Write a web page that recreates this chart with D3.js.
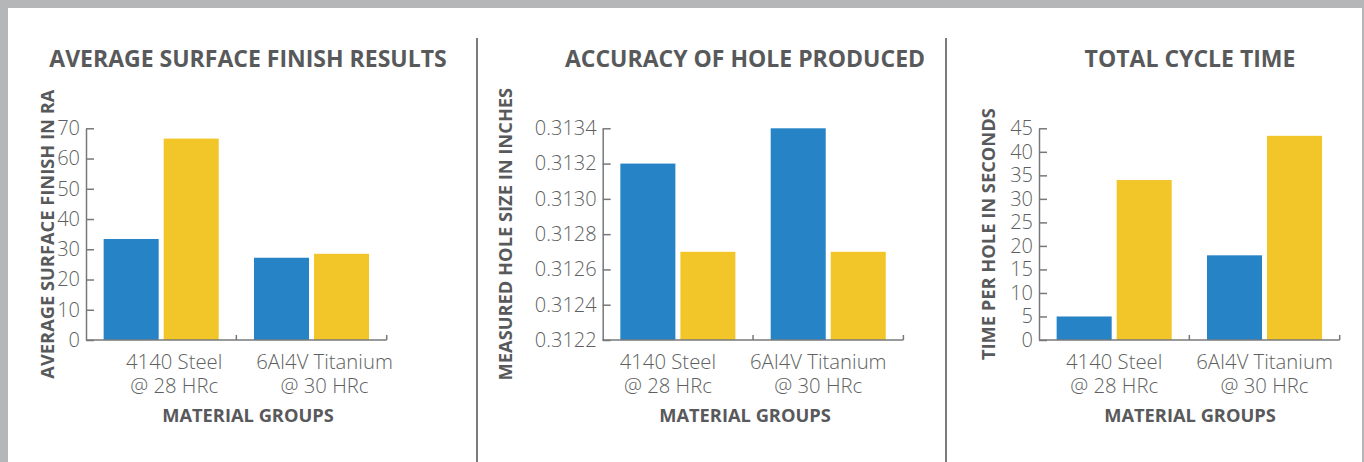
<!DOCTYPE html>
<html lang="en">
<head>
    <meta charset="UTF-8">
    <title>Drilling results</title>
    <style>
        body { margin: 0; background: #b5b6b8; }
        svg { display: block; }
        text { font-family: "Open Sans", sans-serif; fill: #58595b; }
        .title { font-weight: 700; font-size: 23px; }
        .axis-title { font-weight: 700; font-size: 18.3px; }
        .tick text { font-weight: 300; font-size: 20px; fill: #5e5f61; }
        .cat { font-weight: 300; font-size: 20.3px; fill: #5e5f61; }
    </style>
</head>
<body>
    <svg id="chart" width="1364" height="462"></svg>
    <script src="https://d3js.org/d3.v7.min.js"></script>
    <script>
        // categories (two lines each)
        var categories = ["4140 Steel", "6AI4V Titanium"];
        var categorySub = ["@ 28 HRc", "@ 30 HRc"];
        var seriesKeys = ["blue", "yellow"];

        // average surface finish (Ra)
        var finishBlue = [33.4, 27.2];
        var finishYellow = [66.6, 28.5];
        var finishTicks = [0, 10, 20, 30, 40, 50, 60, 70];

        // measured hole size (inches)
        var holeBlue = [0.3132, 0.3134];
        var holeYellow = [0.3127, 0.3127];
        var holeTicks = [0.3122, 0.3124, 0.3126, 0.3128, 0.3130, 0.3132, 0.3134];

        // cycle time (seconds per hole)
        var cycleBlue = [5, 18];
        var cycleYellow = [34, 43.4];
        var cycleTicks = [0, 5, 10, 15, 20, 25, 30, 35, 40, 45];

        var colors = { blue: "#2683c6", yellow: "#f2c628" };

        var charts = [
            { title: "AVERAGE SURFACE FINISH RESULTS", yTitle: "AVERAGE SURFACE FINISH IN RA",
              blue: finishBlue, yellow: finishYellow, ticks: finishTicks, fmt: d3.format("d"),
              x0: 86, titleX: 248, yTitleX: 54, catDx: 13 },
            { title: "ACCURACY OF HOLE PRODUCED", yTitle: "MEASURED HOLE SIZE IN INCHES",
              blue: holeBlue, yellow: holeYellow, ticks: holeTicks, fmt: d3.format(".4f"),
              x0: 602.7, titleX: 745, yTitleX: 512, catDx: -10 },
            { title: "TOTAL CYCLE TIME", yTitle: "TIME PER HOLE IN SECONDS",
              blue: cycleBlue, yellow: cycleYellow, ticks: cycleTicks, fmt: d3.format("d"),
              x0: 1039, titleX: 1190, yTitleX: 995, catDx: 0 }
        ];

        var svg = d3.select("#chart");
        var plotTop = 128.3, plotBottom = 340, plotW = 300.7;

        // white page with dividers
        svg.append("rect").attr("x", 8).attr("y", 8).attr("width", 1354).attr("height", 454).attr("fill", "#fff");
        [477, 946].forEach(function (x) {
            svg.append("line").attr("x1", x).attr("x2", x).attr("y1", 38).attr("y2", 462)
                .attr("stroke", "#7a7b7d").attr("stroke-width", 2);
        });

        charts.forEach(function (c) {
            var g = svg.append("g");

            var x = d3.scaleBand().domain(categories).range([c.x0, c.x0 + plotW]);
            var xi = d3.scaleBand().domain(seriesKeys).range([0, x.bandwidth()])
                .paddingInner(5 / 60).paddingOuter(0.294);
            var y = d3.scaleLinear().domain(d3.extent(c.ticks)).range([plotBottom, plotTop]);

            var rows = categories.map(function (cat, i) {
                return { cat: cat, blue: c.blue[i], yellow: c.yellow[i] };
            });

            // bars
            g.selectAll("g.grp").data(rows).enter().append("g")
                .attr("transform", function (d) { return "translate(" + x(d.cat) + ",0)"; })
                .selectAll("rect")
                .data(function (d) { return seriesKeys.map(function (k) { return { key: k, v: d[k] }; }); })
                .enter().append("rect")
                .attr("x", function (d) { return xi(d.key); })
                .attr("y", function (d) { return y(d.v); })
                .attr("width", xi.bandwidth())
                .attr("height", function (d) { return plotBottom - y(d.v); })
                .attr("fill", function (d) { return colors[d.key]; });

            // y axis, ticks point inward
            var ya = g.append("g").attr("transform", "translate(" + c.x0 + ",0)")
                .call(d3.axisLeft(y).tickValues(c.ticks).tickFormat(c.fmt).tickSize(-8).tickSizeOuter(0).tickPadding(6));
            ya.selectAll("path, line").attr("stroke", "#77787a").attr("stroke-width", 1.5);

            // x axis line with boundary ticks
            g.append("line").attr("x1", c.x0).attr("x2", c.x0 + plotW).attr("y1", plotBottom).attr("y2", plotBottom)
                .attr("stroke", "#77787a").attr("stroke-width", 1.5);
            g.selectAll("line.xt").data(categories).enter().append("line")
                .attr("x1", function (d) { return x(d) + x.step(); })
                .attr("x2", function (d) { return x(d) + x.step(); })
                .attr("y1", plotBottom - 5).attr("y2", plotBottom)
                .attr("stroke", "#77787a").attr("stroke-width", 1.5);

            // category labels
            var cl = g.selectAll("text.cat").data(categories).enter().append("text")
                .attr("class", "cat").attr("text-anchor", "middle")
                .attr("x", function (d) { return x(d) + x.bandwidth() / 2 + c.catDx; })
                .attr("y", 368.5);
            cl.append("tspan").text(function (d) { return d; });
            cl.append("tspan").attr("x", function (d) { return x(d) + x.bandwidth() / 2 + c.catDx; })
                .attr("dy", 24).text(function (d, i) { return categorySub[i]; });

            // titles
            g.append("text").attr("class", "title").attr("text-anchor", "middle")
                .attr("x", c.titleX).attr("y", 67).text(c.title);
            g.append("text").attr("class", "axis-title").attr("text-anchor", "middle")
                .attr("x", c.titleX).attr("y", 421.5).text("MATERIAL GROUPS");
            g.append("text").attr("class", "axis-title").attr("text-anchor", "middle")
                .attr("transform", "translate(" + c.yTitleX + "," + (plotTop + plotBottom) / 2 + ") rotate(-90)")
                .text(c.yTitle);
        });
    </script>
</body>
</html>
